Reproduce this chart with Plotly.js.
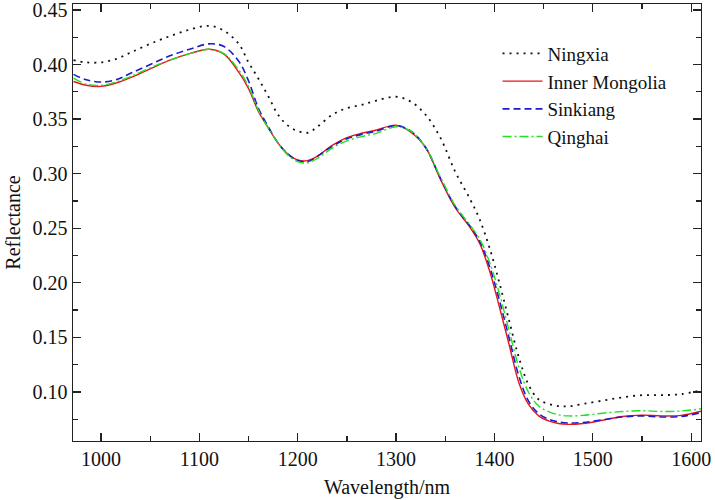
<!DOCTYPE html>
<html>
<head>
<meta charset="utf-8">
<script src="https://cdn.plot.ly/plotly-3.0.1.min.js"></script>
<style>html,body{margin:0;padding:0;background:#fff;}#chart{width:715px;height:500px;}</style>
</head>
<body>
<div id="chart"></div>
<script>
var wavelength = [972, 985, 1000, 1015, 1030, 1050, 1070, 1090, 1110, 1125, 1140, 1150, 1160, 1170, 1180, 1190, 1200, 1210, 1220, 1235, 1250, 1265, 1280, 1300, 1315, 1330, 1345, 1360, 1375, 1385, 1395, 1405, 1415, 1425, 1435, 1445, 1455, 1465, 1475, 1490, 1510, 1530, 1550, 1570, 1590, 1610];

var ningxia = [0.404, 0.402, 0.402, 0.405, 0.411, 0.419, 0.426, 0.432, 0.4355, 0.431, 0.419, 0.402, 0.387, 0.371, 0.354, 0.344, 0.339, 0.3375, 0.343, 0.354, 0.360, 0.363, 0.367, 0.3705, 0.366, 0.354, 0.333, 0.302, 0.277, 0.258, 0.232, 0.200, 0.165, 0.131, 0.106, 0.093, 0.089, 0.087, 0.0868, 0.089, 0.092, 0.095, 0.097, 0.097, 0.098, 0.1015];

var innerMongolia = [0.3845, 0.381, 0.380, 0.383, 0.388, 0.396, 0.404, 0.410, 0.414, 0.4095, 0.393, 0.378, 0.357, 0.342, 0.328, 0.318, 0.3125, 0.312, 0.316, 0.326, 0.333, 0.337, 0.340, 0.3445, 0.338, 0.324, 0.295, 0.269, 0.251, 0.236, 0.211, 0.178, 0.143, 0.108, 0.088, 0.078, 0.0735, 0.071, 0.0702, 0.071, 0.074, 0.0775, 0.0787, 0.078, 0.0785, 0.0823];

var sinkiang = [0.391, 0.386, 0.384, 0.386, 0.392, 0.400, 0.408, 0.414, 0.419, 0.4165, 0.403, 0.385, 0.360, 0.343, 0.328, 0.318, 0.312, 0.311, 0.316, 0.325, 0.332, 0.336, 0.339, 0.344, 0.339, 0.324, 0.296, 0.270, 0.252, 0.238, 0.215, 0.184, 0.149, 0.114, 0.091, 0.080, 0.075, 0.0725, 0.0715, 0.072, 0.0745, 0.077, 0.078, 0.077, 0.0775, 0.081];

var qinghai = [0.3875, 0.382, 0.381, 0.384, 0.389, 0.397, 0.404, 0.410, 0.414, 0.410, 0.395, 0.380, 0.358, 0.342, 0.328, 0.317, 0.311, 0.310, 0.314, 0.3235, 0.330, 0.334, 0.337, 0.343, 0.339, 0.324, 0.297, 0.271, 0.253, 0.240, 0.219, 0.190, 0.156, 0.122, 0.099, 0.087, 0.082, 0.079, 0.078, 0.0785, 0.0805, 0.082, 0.0828, 0.082, 0.0825, 0.0845];

var seriesNames = ['Ningxia', 'Inner Mongolia', 'Sinkiang', 'Qinghai'];

var xTickVals = [1000, 1100, 1200, 1300, 1400, 1500, 1600];
var xTickText = ['1000', '1100', '1200', '1300', '1400', '1500', '1600'];
var yTickVals = [0.10, 0.15, 0.20, 0.25, 0.30, 0.35, 0.40, 0.45];
var yTickText = ['0.10', '0.15', '0.20', '0.25', '0.30', '0.35', '0.40', '0.45'];

var FONT = 'Liberation Serif';

function trace(name, ys, color, dash, width) {
  return {
    x: wavelength, y: ys, name: name, type: 'scatter', mode: 'lines',
    line: {color: color, dash: dash, width: width, shape: 'spline', smoothing: 1}
  };
}

var data = [
  trace(seriesNames[0], ningxia, '#111111', '2px,5px', 1.8),
  trace(seriesNames[1], innerMongolia, '#e8141c', 'solid', 1.4),
  trace(seriesNames[2], sinkiang, '#1c1cc8', '7px,4px', 1.6),
  trace(seriesNames[3], qinghai, '#22e022', '9px,3px,2px,3px', 1.4)
];

function axis(extra) {
  var a = {
    showgrid: false, zeroline: false, showline: true, linecolor: '#222', linewidth: 1.4,
    ticks: 'inside', ticklen: 8, tickwidth: 1.3, tickcolor: '#222', mirror: 'ticks',
    ticklabeloverflow: 'allow',
    tickfont: {family: FONT, size: 20, color: '#111'}
  };
  return Object.assign(a, extra);
}

var layout = {
  width: 715, height: 500,
  margin: {l: 73, r: 14, t: 4, b: 59},
  paper_bgcolor: '#fff', plot_bgcolor: '#fff',
  font: {family: FONT, size: 20, color: '#111'},
  showlegend: true,
  legend: {x: 0.676, y: 0.93, xanchor: 'left', yanchor: 'top', bgcolor: 'rgba(0,0,0,0)',
           font: {family: FONT, size: 19, color: '#111'}, tracegroupgap: 0, itemwidth: 40},
  xaxis: axis({
    range: [971.5, 1610], tickmode: 'array', tickvals: xTickVals, ticktext: xTickText,
    minor: {ticks: 'inside', ticklen: 5, tickwidth: 1.2, tickcolor: '#222', showgrid: false, tickmode: 'linear', dtick: 50, tick0: 950},
    title: {text: 'Wavelength/nm', font: {family: FONT, size: 20, color: '#111'}, standoff: 10}
  }),
  yaxis: axis({
    range: [0.055, 0.4555], tickmode: 'array', tickvals: yTickVals, ticktext: yTickText,
    minor: {ticks: 'inside', ticklen: 5, tickwidth: 1.2, tickcolor: '#222', showgrid: false, tickmode: 'linear', dtick: 0.025, tick0: 0.075},
    title: {text: 'Reflectance', font: {family: FONT, size: 20, color: '#111'}, standoff: 6}
  })
};

Plotly.newPlot('chart', data, layout, {displayModeBar: false, staticPlot: true});
</script>
</body>
</html>
